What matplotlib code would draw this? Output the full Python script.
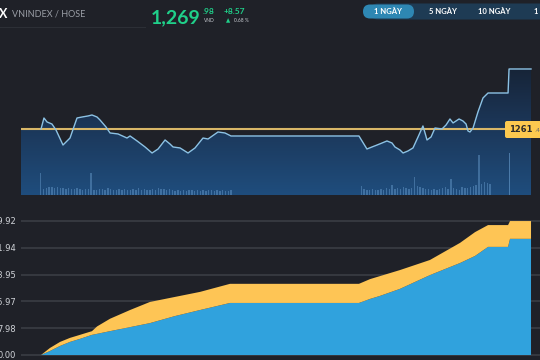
import numpy as np
import matplotlib
matplotlib.use("Agg")
from matplotlib import pyplot as plt
from matplotlib.patches import FancyBboxPatch
from matplotlib.colors import LinearSegmentedColormap

# intraday price (minutes after 9:00)
t_price = [14.3, 16.4, 18.6, 22.1, 25, 30, 35, 40, 43.6, 47.9, 50.7, 54.3, 56.4, 60.7,
           63.6, 69.3, 75.7, 77.9, 82.9, 88.6, 93.6, 97.9, 102.9, 106.4, 108.6, 113.6,
           119.3, 124.3, 130, 133.6, 140.7, 145.7, 150,
           241.4, 247.1, 250.7, 254.3, 257.9, 261.4, 265, 267.1, 270.7, 272.9, 276.4,
           280, 283.6, 287.1, 288.6, 290, 292.9, 295.7, 300.7, 303.6, 306.4, 308.6,
           312.9, 315.7, 317.9, 319.3, 320.7, 322.9, 326.4, 330, 333.6, 347.9, 348.6, 364.3]
price = [1261.41, 1262.98, 1262.41, 1262.12, 1261.27, 1259.12, 1260.12, 1262.98, 1263.12,
         1263.27, 1263.41, 1263.12, 1262.70, 1261.70, 1260.84, 1260.70, 1260.12, 1260.41,
         1259.70, 1258.84, 1257.98, 1258.55, 1259.84, 1259.27, 1258.84, 1258.70, 1257.98,
         1258.70, 1260.12, 1259.98, 1260.98, 1260.84, 1260.41,
         1260.41, 1258.55, 1258.84, 1259.12, 1259.41, 1259.70, 1259.41, 1258.84, 1258.41,
         1257.98, 1258.27, 1258.70, 1260.27, 1261.84, 1260.84, 1259.84, 1260.27, 1261.55,
         1261.41, 1261.98, 1262.84, 1262.27, 1262.84, 1262.55, 1262.12, 1261.12, 1260.98,
         1261.55, 1263.84, 1265.84, 1266.55, 1266.55, 1269.98, 1269.98]
ref_price = 1261.41

# volume bars
vol_am = [22, 6, 7, 8, 8, 7, 8, 7, 7, 6, 7, 6, 6, 7, 6, 5, 6, 6, 22, 5, 5, 6, 6, 5, 7,
          6, 5, 5, 6, 5, 6, 5, 5, 6, 5, 7, 5, 6, 5, 5, 6, 5, 7, 6, 6, 5, 6, 5, 4, 5,
          4, 5, 4, 5, 5, 4, 5, 4, 5, 4, 5, 5, 4, 5, 4, 5, 4, 4, 5]
vol_pm = [9, 6, 5, 5, 6, 5, 5, 6, 5, 7, 6, 10, 6, 7, 6, 8, 7, 6, 7, 18, 9, 8, 7, 6, 6,
          5, 6, 5, 6, 7, 8, 6, 16, 7, 6, 5, 8, 7, 7, 8, 9, 10, 40, 11, 13, 12, 11]
vol_atc = 42

# cumulative chart
t_cum = [14.3, 20.7, 27.9, 35, 42.1, 50.7, 54.3, 63.6, 77.9, 92.1, 110, 127.9, 149.3,
         241.4, 249.3, 256.4, 270.7, 292.1, 313.6, 324.3, 333.6, 347.9, 349.3, 364.3]
cum_blue = [0, 1.2, 2.7, 3.9, 4.8, 6.0, 6.3, 7.1, 8.3, 9.5, 11.6, 13.4, 15.5,
            15.5, 16.7, 17.6, 19.7, 23.8, 27.4, 29.5, 32.2, 32.2, 34.6, 34.6]
cum_total = [0, 2.1, 3.9, 5.1, 6.0, 7.1, 8.5, 10.8, 13.4, 15.8, 17.3, 18.8, 21.2,
             21.2, 22.6, 23.5, 25.3, 28.3, 33.4, 36.6, 38.7, 38.7, 39.9, 39.9]
cum_ticks = [0.00, 7.98, 15.97, 23.95, 31.94, 39.92]

bg = "#1f2128"
fig = plt.figure(figsize=(5.4, 3.6), dpi=100, facecolor=bg)
W, H = 540, 360

def fbox(x0, y0, x1, y1):
    return [x0 / W, 1 - y1 / H, (x1 - x0) / W, (y1 - y0) / H]

xmax = (540 - 21) / 1.4

# ---- top price chart
ax = fig.add_axes(fbox(21, 40, 540, 195))
ax.set_facecolor(bg)
ymin, ymax = 1251.98, 1274.12
fx = [0] + t_price
fy = [ref_price] + price
poly = ax.fill_between(fx, fy, ymin, color="none")
grad = np.linspace(0, 1, 256).reshape(-1, 1)
cmap = LinearSegmentedColormap.from_list("g", ["#1f4d7d", "#1b3454", "#141b27"])
im = ax.imshow(grad, cmap=cmap, aspect="auto", extent=[0, xmax, ymin, ymax],
               origin="lower", zorder=1)
im.set_clip_path(poly.get_paths()[0], transform=ax.transData)
ax.set_xlim(0, xmax)
ax.set_ylim(ymin, ymax)

axv = ax.twinx()
axv.set_ylim(0, 155)
t_am = 14 + 2 * np.arange(len(vol_am))
t_pm = 243 + 2 * np.arange(len(vol_pm))
axv.bar(t_am, vol_am, width=1.0, color="#6a9fd0", alpha=0.45, zorder=2)
axv.bar(t_pm, vol_pm, width=1.0, color="#6a9fd0", alpha=0.45, zorder=2)
axv.bar([349], [vol_atc], width=1.0, color="#6a9fd0", alpha=0.6, zorder=2)

axv.axhline((ref_price - ymin) / (ymax - ymin) * 155, color="#d9b768", lw=1.5, zorder=3)
axv.plot(t_price, [(p - ymin) / (ymax - ymin) * 155 for p in price],
         color="#8cc2e4", lw=1.0, zorder=4)
for a in (ax, axv):
    a.set_xlim(0, xmax)
    a.axis("off")

# ---- bottom cumulative chart
ax2 = fig.add_axes(fbox(21, 210, 540, 360))
ax2.set_facecolor(bg)
ax2.set_xlim(0, xmax)
ax2.set_ylim(-1.49, 43.19)
for v in cum_ticks:
    ax2.axhline(v, color="#3a3d44", lw=1.2, zorder=0)
top_layer = [a - b for a, b in zip(cum_total, cum_blue)]
ax2.stackplot(t_cum, cum_blue, top_layer, colors=["#30a2dd", "#fec555"], zorder=2)
ax2.set_yticks(cum_ticks, [f"{v:.2f}" for v in cum_ticks])
ax2.tick_params(axis="y", length=0, pad=3.6, labelsize=6, labelcolor="#d0d3d8")
ax2.set_xticks([])
for s in ax2.spines.values():
    s.set_visible(False)

# ---- header overlay
ov = fig.add_axes([0, 0, 1, 1])
ov.set_xlim(0, W)
ov.set_ylim(H, 0)
ov.axis("off")
ov.patch.set_alpha(0)
ov.plot([0, 145], [27, 27], color="#2c2f36", lw=0.8)
ov.text(-1, 14, "X", color="white", fontsize=9, fontweight="bold", va="center", family="Lato")
ov.text(12, 14, "VNINDEX / HOSE", color="#9a9ea6", fontsize=6.5, va="center", family="Lato")
green = "#1fd08a"
ov.text(151, 23, "1,269", color=green, fontsize=14, fontweight="bold", family="Lato")
ov.text(203, 14, ".98", color=green, fontsize=6, fontweight="bold", family="Lato")
ov.text(204, 21, "VND", color="#c8ccd2", fontsize=3.5, va="center", family="Lato")
ov.text(224, 14, "+8.57", color=green, fontsize=6, fontweight="bold", family="Lato")
ov.text(226, 21, "▲", color=green, fontsize=4, va="center")
ov.text(234, 21, "0.68 %", color="#c8ccd2", fontsize=3.5, va="center", family="Lato")

ov.add_patch(FancyBboxPatch((370, 3.5), 180, 16, boxstyle="round,pad=0,rounding_size=8",
                            fc="#1e3b54", ec="none"))
ov.add_patch(FancyBboxPatch((363, 4.5), 51, 14, boxstyle="round,pad=0,rounding_size=7",
                            fc="#2e87b3", ec="none"))
for x, s in [(388, "1 NGÀY"), (443, "5 NGÀY"), (494, "10 NGÀY"), (536, "1")]:
    ov.text(x, 12, s, color="white", fontsize=5.5, fontweight="bold", ha="center",
            va="center", family="Lato")

ov.add_patch(FancyBboxPatch((505, 121), 45, 17, boxstyle="round,pad=0,rounding_size=2",
                            fc="#fcc94f", ec="none"))
ov.text(509, 130, "1261", color="#2a2a2a", fontsize=6, fontweight="bold", va="center")
ov.text(534, 131, ".41", color="#6a6a6a", fontsize=4.5, va="center")

fig.savefig("out.png", dpi=100, facecolor=bg)
